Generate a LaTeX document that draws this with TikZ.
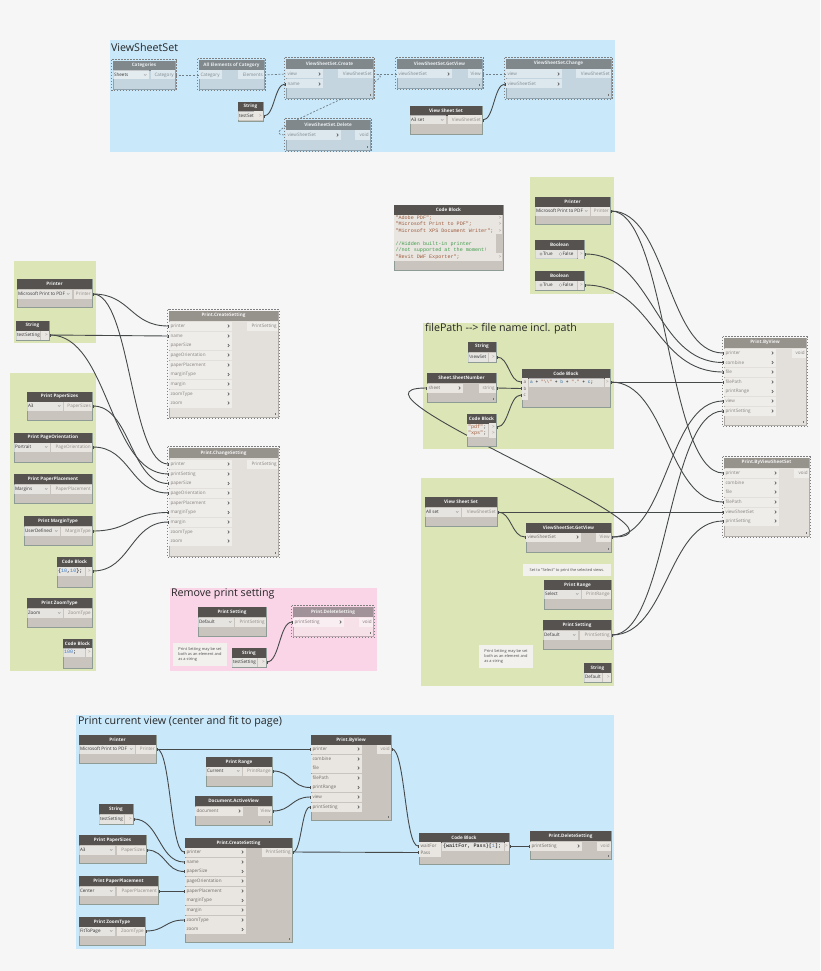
\documentclass[tikz,border=0pt]{standalone}
\usepackage{fontspec}
\setmainfont{Open Sans}
\newfontfamily\codefont{Liberation Mono}
\usetikzlibrary{arrows.meta,calc}
\pgfdeclarelayer{groups}\pgfdeclarelayer{wires}\pgfsetlayers{groups,wires,main}
\definecolor{pagebg}{HTML}{F6F6F6}
\definecolor{gblue}{HTML}{C9E8FA}
\definecolor{ggreen}{HTML}{DCE5B5}
\definecolor{gpink}{HTML}{F9D5E7}
\definecolor{wirecol}{HTML}{45494A}
\definecolor{dashcol}{HTML}{6F7F88}
\definecolor{codestr}{HTML}{9C5A3C}
\definecolor{codecom}{HTML}{3F9A4A}
\definecolor{codenum}{HTML}{3F7FC8}
\definecolor{codeinp}{HTML}{2F6F9F}
\definecolor{F2note}{HTML}{F3F1EE}
\definecolor{frozencol}{HTML}{7F7F7F}
\newif\ifdashedbox
\newcommand{\setlook}[7]{\definecolor{boxfill}{HTML}{#1}\definecolor{titlefill}{HTML}{#2}\definecolor{titletext}{HTML}{#3}\definecolor{pinfill}{HTML}{#4}\definecolor{pintext}{HTML}{#5}\definecolor{boxline}{HTML}{#6}\definecolor{outcol}{HTML}{#7}}
\newcommand{\looklive}{\setlook{C9C5BE}{555250}{F4F4F4}{E9E6E1}{6E6B68}{8F9C96}{8E8B88}\dashedboxfalse}
\newcommand{\lookfrozen}{\setlook{E3E0DC}{96928C}{F4F4F4}{EFEDEA}{85827E}{B0ADA8}{85827E}\dashedboxtrue}
\newcommand{\lookghost}{\setlook{C4D5DF}{80888C}{E8ECEE}{DDE8EE}{7F8A90}{8FA3AE}{7F8A90}\dashedboxtrue}
\newcommand{\lookpink}{\setlook{F5E1E7}{A09298}{F4F4F4}{F9EEF2}{85787E}{BFAAB2}{85787E}\dashedboxtrue}
\tikzset{
 x=1pt,y=-1pt,
 every node/.style={inner sep=0pt,outer sep=0pt},
 labeltext/.style={font=\fontsize{4.6}{5.6}\selectfont},
 boxbody/.style={fill=boxfill,draw=boxline,line width=0.7pt,rectangle,anchor=north west},
 boxtitle/.style={fill=titlefill,text=titletext,rectangle,anchor=north west,font=\fontsize{4.6}{5.6}\selectfont\bfseries},
 pinbg/.style={fill=pinfill,rectangle,minimum height=9pt,anchor=west},
 fieldbg/.style={fill=white,fill opacity=0.55,rectangle,minimum height=9pt,anchor=west},
 fieldtext/.style={labeltext,text=black!80,anchor=west},
 intext/.style={labeltext,text=pintext,anchor=west},
 outtext/.style={labeltext,text=outcol,anchor=east},
 chev/.style={line width=0.6pt,draw=black!70},
 frozenline/.style={draw=frozencol,line width=1pt,dash pattern=on 1.5pt off 1.5pt},
 lacing/.style={draw=black!55,line width=0.4pt},
 grouptitle/.style={font=\fontsize{10.7}{12}\selectfont,text=black!85,anchor=west},
 groupbox/.style={rectangle,anchor=north west},
 notebox/.style={fill=F2note,rectangle,anchor=north west,align=left,font=\fontsize{3.9}{5.4}\selectfont,text=black!70,inner sep=1.5pt},
 wire/.style={draw=wirecol,line width=0.9pt,{Rectangle[length=1.3pt,width=2.4pt]}-{Rectangle[length=1.3pt,width=2.4pt]}},
 dashwire/.style={draw=dashcol,line width=0.7pt,dash pattern=on 2pt off 1.6pt},
 codetext/.style={font=\codefont\fontsize{5.1}{6}\selectfont,anchor=west},
}
% \dbox{look}{id}{x1}{y1}{x2}{y2}{title}
\newcommand{\dbox}[7]{%
 \csname look#1\endcsname
 \pgfmathsetmacro\dynw{#5-#3}\pgfmathsetmacro\dynh{#6-#4}%
 \node[boxbody,minimum width=\dynw pt,minimum height=\dynh pt] (#2) at (#3,#4) {};
 \node[boxtitle,minimum width=\dynw pt,minimum height=9.6pt] (#2-t) at (#3,#4) {#7};
 \ifdashedbox
 \draw[frozenline] ($(#2.north west)+(-1.4,-1.4)$) rectangle ($(#2.south east)+(1.4,1.4)$);
 \fi
}
% lacing mark
\newcommand{\lace}[1]{\draw[lacing] ($(#1.south east)+(-3,-4)$) -- ($(#1.south east)+(-3,-2)$);}
% input pin: id,x1,x2,y,label
\newcommand{\pinn}[5]{%
 \pgfmathsetmacro\dynw{#3-#2}%
 \node[pinbg,minimum width=\dynw pt] (#1) at (#2,#4) {};
 \node[intext] (#1-l) at (#2+1.5,#4) {#5};
}
\newcommand{\pin}[5]{\pinn{#1}{#2}{#3}{#4}{#5}
 \draw[chev] (#3-4.2,#4-1.5) -- (#3-2.7,#4) -- (#3-4.2,#4+1.5);
}
% output pin: id,x1,x2,y,label
\newcommand{\pout}[5]{%
 \pgfmathsetmacro\dynw{#3-#2}%
 \node[pinbg,minimum width=\dynw pt] (#1) at (#2,#4) {};
 \node[outtext] (#1-l) at (#3-1.3,#4) {#5};
}
% dropdown: id,x1,x2,y,text
\newcommand{\combo}[5]{%
 \pgfmathsetmacro\dynw{#3-#2}%
 \node[fieldbg,minimum width=\dynw pt] (#1) at (#2,#4) {};
 \node[fieldtext] (#1-l) at (#2+1,#4) {#5};
 \draw[draw=black!45,line width=0.35pt] (#3-5,#4-0.7) -- (#3-3.8,#4+0.5) -- (#3-2.6,#4-0.7);
}
% text input: id,x1,x2,y,text
\newcommand{\field}[5]{%
 \pgfmathsetmacro\dynw{#3-#2}%
 \node[fieldbg,minimum width=\dynw pt] (#1) at (#2,#4) {};
 \node[fieldtext] (#1-l) at (#2+1,#4) {#5};
}
% small output with chevron text
\newcommand{\smallout}[4]{%
 \pout{#1}{#2}{#3}{#4}{>}
}
\newcommand{\wire}[3][wire]{\draw[#1] let \p1=(#2.east),\p2=(#3.west),\n1={0.5*abs(\x2-\x1)} in (#2.east) .. controls +(\n1,0) and +(-\n1,0) .. (#3.west);}
\newcommand{\grp}[6]{%
 \begin{pgfonlayer}{groups}
 \pgfmathsetmacro\dynw{#4-#2}\pgfmathsetmacro\dynh{#5-#3}%
 \node[groupbox,fill=#6,minimum width=\dynw pt,minimum height=\dynh pt] (#1) at (#2,#3) {};
 \end{pgfonlayer}
}
\newcommand{\radio}[3]{\node[circle,fill=white,draw=black!40,line width=0.25pt,minimum size=2.8pt] (#1) at (#2,#3) {};}
\begin{document}
\begin{tikzpicture}
\useasboundingbox (0,0) rectangle (820,971);
\begin{pgfonlayer}{groups}
\fill[pagebg] (0,0) rectangle (820,971);
\end{pgfonlayer}
% groups
\grp{g1}{110}{40}{615}{152}{gblue}
\grp{g2}{14}{261}{96}{343}{ggreen}
\grp{g3}{10}{373}{96}{671}{ggreen}
\grp{g4}{170}{588}{377}{671}{gpink}
\grp{g5}{530}{177}{614}{294}{ggreen}
\grp{g6}{423}{323}{614}{449}{ggreen}
\grp{g7}{421}{478}{614}{686}{ggreen}
\grp{g8}{76}{715}{614}{949}{gblue}
\node[grouptitle] (h1) at (111,47) {ViewSheetSet};
\node[grouptitle] (h2) at (171,594) {Remove print setting};
\node[grouptitle] (h3) at (425,329) {filePath {-}{-}> file name incl. path};
\node[grouptitle] (h4) at (78,722) {Print current view (center and fit to page)};

% ---- ViewSheetSet group
\dbox{ghost}{a1}{113}{61}{175}{89}{Categories}
\combo{a1c}{113}{149}{75}{Sheets}
\pout{a1o}{151}{175}{75}{Category}
\dbox{ghost}{a2}{199}{60}{264}{89}{All Elements of Category}
\pinn{a2i}{199}{222}{75}{Category}
\pout{a2o}{238}{264}{75}{Elements}
\dbox{ghost}{a3}{286}{59}{373}{98}{ViewSheetSet.Create}
\pin{a3v}{286}{323}{74}{view}
\pin{a3n}{286}{323}{84}{name}
\pout{a3o}{338}{373}{74}{ViewSheetSet}
\lace{a3}
\dbox{ghost}{a4}{286}{120}{370}{150}{ViewSheetSet.Delete}
\pin{a4i}{286}{341}{135}{viewSheetSet}
\pout{a4o}{355}{370}{135}{void}
\lace{a4}
\dbox{ghost}{a5}{397}{59}{482}{88}{ViewSheetSet.GetView}
\pin{a5i}{397}{452}{74}{viewSheetSet}
\pout{a5o}{468}{482}{74}{View}
\lace{a5}
\dbox{ghost}{a6}{506}{59}{611}{98}{ViewSheetSet.Change}
\pin{a6v}{506}{562}{74}{view}
\pin{a6s}{506}{562}{84}{viewSheetSet}
\pout{a6o}{576}{611}{74}{ViewSheetSet}
\lace{a6}
\dbox{live}{a7}{238}{102}{263}{121}{String}
\field{a7f}{238}{254}{116}{testSet}
\smallout{a7o}{254}{263}{116}
\dbox{live}{a8}{410}{106}{482}{134}{View Sheet Set}
\combo{a8c}{410}{446}{120}{A3 set}
\pout{a8o}{448}{482}{120}{ViewSheetSet}

% ---- Left settings
\dbox{live}{b1}{17}{279}{92}{307}{Printer}
\combo{b1c}{17}{72}{294}{Microsoft Print to PDF}
\pout{b1o}{74}{92}{294}{Printer}
\dbox{live}{b2}{16}{321}{49}{340}{String}
\field{b2f}{16}{40}{335}{testSetting}
\smallout{b2o}{41}{49}{335}
\dbox{live}{b3}{27}{392}{92}{420}{Print PaperSizes}
\combo{b3c}{27}{63}{406}{A3}
\pout{b3o}{64}{92}{406}{PaperSizes}
\dbox{live}{b4}{14}{433}{92}{462}{Print PageOrientation}
\combo{b4c}{14}{50}{447}{Portrait}
\pout{b4o}{51}{92}{447}{PageOrientation}
\dbox{live}{b5}{14}{474}{92}{503}{Print PaperPlacement}
\combo{b5c}{14}{50}{489}{Margins}
\pout{b5o}{51}{92}{489}{PaperPlacement}
\dbox{live}{b6}{24}{516}{92}{545}{Print MarginType}
\combo{b6c}{24}{60}{531}{UserDefined}
\pout{b6o}{61}{92}{531}{MarginType}
\dbox{live}{b7}{57}{557}{92}{587}{Code Block}
\field{b7f}{57}{85}{571}{}
\node[codetext] (b7t) at (58,571) {\{\textcolor{codenum}{10},\textcolor{codenum}{10}\};};
\smallout{b7o}{86}{92}{571}
\dbox{live}{b8}{27}{598}{92}{627}{Print ZoomType}
\combo{b8c}{27}{63}{613}{Zoom}
\pout{b8o}{64}{92}{613}{ZoomType}
\dbox{live}{b9}{63}{639}{92}{668}{Code Block}
\field{b9f}{63}{85}{652}{}
\node[codetext] (b9t) at (64,652) {\textcolor{codenum}{100};};
\smallout{b9o}{86}{92}{652}

\dbox{frozen}{c1}{169}{311}{278}{417}{Print.CreateSetting}
\pin{c1a}{169}{232}{326}{printer}
\pin{c1b}{169}{232}{336}{name}
\pin{c1c}{169}{232}{345.5}{paperSize}
\pin{c1d}{169}{232}{355}{pageOrientation}
\pin{c1e}{169}{232}{365}{paperPlacement}
\pin{c1f}{169}{232}{374.5}{marginType}
\pin{c1g}{169}{232}{384}{margin}
\pin{c1h}{169}{232}{394}{zoomType}
\pin{c1i}{169}{232}{403}{zoom}
\pout{c1o}{247}{278}{326}{PrintSetting}
\lace{c1}
\dbox{frozen}{c2}{169}{448}{278}{556}{Print.ChangeSetting}
\pin{c2a}{169}{232}{464}{printer}
\pin{c2b}{169}{232}{474}{printSetting}
\pin{c2c}{169}{232}{483.5}{paperSize}
\pin{c2d}{169}{232}{493}{pageOrientation}
\pin{c2e}{169}{232}{503}{paperPlacement}
\pin{c2f}{169}{232}{512.5}{marginType}
\pin{c2g}{169}{232}{522}{margin}
\pin{c2h}{169}{232}{532}{zoomType}
\pin{c2i}{169}{232}{541}{zoom}
\pout{c2o}{247}{278}{464}{PrintSetting}
\lace{c2}

% ---- Remove print setting
\dbox{live}{d1}{198}{607}{266}{636}{Print Setting}
\combo{d1c}{198}{234}{622}{Default}
\pout{d1o}{235}{266}{622}{PrintSetting}
\node[notebox,minimum width=54pt,minimum height=23pt] (d2) at (173,643) {Print Setting may be set\\both as an element and\\as a string};
\dbox{live}{d3}{232}{648}{266}{667}{String}
\field{d3f}{232}{257}{662}{testSetting}
\smallout{d3o}{258}{266}{662}
\dbox{pink}{d4}{293}{607}{373}{636}{Print.DeleteSetting}
\pin{d4i}{293}{344}{622}{printSetting}
\pout{d4o}{359}{373}{622}{void}
\lace{d4}

% ---- Large code block
\dbox{live}{e1}{394}{205}{503}{270}{Code Block}
\node[rectangle,fill=pinfill,anchor=north west,minimum width=108pt,minimum height=46pt] (e1b) at (394.4,214.6) {};
\node[rectangle,fill=boxfill,anchor=north west,minimum width=6.6pt,minimum height=19pt] (e1s) at (496,233.5) {};
\node[codetext,text=codestr] (e1l1) at (395.5,218) {"Adobe PDF";};
\node[codetext,text=codestr] (e1l2) at (395.5,224.5) {"Microsoft Print to PDF";};
\node[codetext,text=codestr] (e1l3) at (395.5,231) {"Microsoft XPS Document Writer";};
\node[codetext,text=codecom] (e1l4) at (395.5,244) {//Hidden built-in printer};
\node[codetext,text=codecom] (e1l5) at (395.5,250.5) {//not supported at the moment!};
\node[codetext,text=codestr] (e1l6) at (395.5,257) {"Revit DWF Exporter";};
\node[outtext] (e1o1) at (501.5,218) {>};
\node[outtext] (e1o2) at (501.5,224.5) {>};
\node[outtext] (e1o3) at (501.5,231) {>};
\node[outtext] (e1o4) at (501.5,257) {>};

% ---- right top group
\dbox{live}{f1}{535}{197}{610}{224}{Printer}
\combo{f1c}{535}{590}{211}{Microsoft Print to PDF}
\pout{f1o}{591}{610}{211}{Printer}
\dbox{live}{f2}{535}{240}{584}{258}{Boolean}
\field{f2f}{535}{577}{254}{}
\radio{f2r}{541}{254}
\fill[black!70] (541,254) circle (0.7);
\node[fieldtext] (f2a) at (543,254) {True};
\radio{f2s}{560.5}{254}
\node[fieldtext] (f2b) at (562.5,254) {False};
\smallout{f2o}{578}{584}{254}
\dbox{live}{f3}{535}{271}{584}{290}{Boolean}
\field{f3f}{535}{577}{285}{}
\radio{f3r}{541}{285}
\fill[black!70] (541,285) circle (0.7);
\node[fieldtext] (f3a) at (543,285) {True};
\radio{f3s}{560.5}{285}
\node[fieldtext] (f3b) at (562.5,285) {False};
\smallout{f3o}{578}{584}{285}

% ---- filePath group
\dbox{live}{k1}{468}{342}{496}{362}{String}
\field{k1f}{468}{488}{357}{\textbackslash{}newSet}
\smallout{k1o}{489}{496}{357}
\dbox{live}{k2}{427}{373}{496}{402}{Sheet.SheetNumber}
\pin{k2i}{427}{463}{388}{sheet}
\pout{k2o}{479}{496}{388}{string}
\lace{k2}
\dbox{live}{k3}{467}{414}{496}{446}{Code Block}
\node[rectangle,fill=pinfill,anchor=west,minimum width=21pt,minimum height=13pt] (k3g) at (467.4,430.2) {};
\node[codetext,text=codestr] (k3a) at (468,427) {"pdf"\textcolor{black!70}{;}};
\node[codetext,text=codestr] (k3b) at (468,433.5) {"xps"\textcolor{black!70}{;}};
\smallout{k3o}{489}{496}{427}
\smallout{k3p}{489}{496}{433.5}
\dbox{live}{k4}{522}{369}{610}{407}{Code Block}
\pinn{k4a}{522}{528}{382}{a}
\pinn{k4b}{522}{528}{388.5}{b}
\pinn{k4c}{522}{528}{395}{c}
\field{k4f}{529}{604}{382}{}
\node[codetext,font=\codefont\fontsize{4.6}{6}\selectfont] (k4t) at (530,382) {\textcolor{codeinp}{a} + \textcolor{codestr}{"\textbackslash\textbackslash"} + \textcolor{codeinp}{b} + \textcolor{codestr}{"."} + \textcolor{codeinp}{c};};
\smallout{k4o}{605}{610}{382}

% ---- sheet-set group
\dbox{live}{m1}{425}{497}{497}{526}{View Sheet Set}
\combo{m1c}{425}{461}{512}{All set}
\pout{m1o}{462}{497}{512}{ViewSheetSet}
\dbox{live}{m2}{526}{523}{611}{552}{ViewSheetSet.GetView}
\pin{m2i}{526}{581}{537}{viewSheetSet}
\pout{m2o}{596}{611}{537}{View}
\lace{m2}
\node[notebox,minimum width=88pt,minimum height=12pt,font=\fontsize{3.9}{5}\selectfont] (m3) at (523,564) {Set to "Select" to print the selected views.};
\dbox{live}{m4}{544}{580}{611}{609}{Print Range}
\combo{m4c}{544}{581}{594}{Select}
\pout{m4o}{582}{611}{594}{PrintRange}
\dbox{live}{m5}{543}{620}{611}{649}{Print Setting}
\combo{m5c}{543}{578}{635}{Default}
\pout{m5o}{580}{611}{635}{PrintSetting}
\node[notebox,minimum width=54pt,minimum height=23pt] (m6) at (479,645) {Print Setting may be set\\both as an element and\\as a string};
\dbox{live}{m7}{584}{663}{611}{682}{String}
\field{m7f}{584}{602}{677}{Default}
\smallout{m7o}{603}{611}{677}

% ---- Right prints
\dbox{frozen}{n1}{724}{338}{806}{425}{Print.ByView}
\pin{n1a}{724}{776}{353}{printer}
\pin{n1b}{724}{776}{362.5}{combine}
\pin{n1c}{724}{776}{372}{file}
\pin{n1d}{724}{776}{382}{filePath}
\pin{n1e}{724}{776}{391.5}{printRange}
\pin{n1f}{724}{776}{401}{view}
\pin{n1g}{724}{776}{411}{printSetting}
\pout{n1o}{792}{806}{353}{void}
\lace{n1}
\dbox{frozen}{n2}{724}{458}{809}{536}{Print.ByViewSheetSet}
\pin{n2a}{724}{779}{473}{printer}
\pin{n2b}{724}{779}{483}{combine}
\pin{n2c}{724}{779}{492}{file}
\pin{n2d}{724}{779}{502}{filePath}
\pin{n2e}{724}{779}{512}{viewSheetSet}
\pin{n2f}{724}{779}{521}{printSetting}
\pout{n2o}{794}{809}{473}{void}
\lace{n2}

% ---- Bottom group
\dbox{live}{q1}{79}{735}{156}{763}{Printer}
\combo{q1c}{79}{135}{749}{Microsoft Print to PDF}
\pout{q1o}{136}{156}{749}{Printer}
\dbox{live}{q2}{206}{757}{272}{786}{Print Range}
\combo{q2c}{206}{242}{771}{Current}
\pout{q2o}{243}{272}{771}{PrintRange}
\dbox{live}{q3}{195}{796}{272}{825}{Document.ActiveView}
\pin{q3i}{195}{243}{811}{document}
\pout{q3o}{258}{272}{811}{View}
\lace{q3}
\dbox{live}{q4}{99}{804}{133}{824}{String}
\field{q4f}{99}{124}{819}{testSetting}
\smallout{q4o}{125}{133}{819}
\dbox{live}{q5}{311}{735}{391}{820}{Print.ByView}
\pin{q5a}{311}{362}{749}{printer}
\pin{q5b}{311}{362}{759}{combine}
\pin{q5c}{311}{362}{768}{file}
\pin{q5d}{311}{362}{778}{filePath}
\pin{q5e}{311}{362}{787.5}{printRange}
\pin{q5f}{311}{362}{797}{view}
\pin{q5g}{311}{362}{807}{printSetting}
\pout{q5o}{377}{391}{749}{void}
\lace{q5}
\dbox{live}{q6}{79}{835}{146}{863}{Print PaperSizes}
\combo{q6c}{79}{115}{850}{A3}
\pout{q6o}{117}{146}{850}{PaperSizes}
\dbox{live}{q7}{79}{876}{158}{904}{Print PaperPlacement}
\combo{q7c}{79}{115}{891}{Center}
\pout{q7o}{117}{158}{891}{PaperPlacement}
\dbox{live}{q8}{79}{917}{145}{945}{Print ZoomType}
\combo{q8c}{79}{115}{931}{FitToPage}
\pout{q8o}{117}{145}{931}{ZoomType}
\dbox{live}{q9}{185}{838}{292}{942}{Print.CreateSetting}
\pin{q9a}{185}{246}{852}{printer}
\pin{q9b}{185}{246}{862}{name}
\pin{q9c}{185}{246}{871.5}{paperSize}
\pin{q9d}{185}{246}{881}{pageOrientation}
\pin{q9e}{185}{246}{891}{paperPlacement}
\pin{q9f}{185}{246}{900.5}{marginType}
\pin{q9g}{185}{246}{910}{margin}
\pin{q9h}{185}{246}{920}{zoomType}
\pin{q9i}{185}{246}{929.5}{zoom}
\pout{q9o}{262}{292}{852}{PrintSetting}
\lace{q9}
\dbox{live}{r1}{419}{833}{509}{864}{Code Block}
\pinn{r1a}{419}{441}{846}{waitFor}
\pinn{r1b}{419}{441}{852.5}{Pass}
\field{r1f}{442}{504}{846}{}
\node[codetext] (r1t) at (443,846) {\{waitFor, Pass\}[\textcolor{codenum}{1}];};
\smallout{r1o}{505}{509}{846}
\dbox{live}{r2}{530}{831}{611}{859}{Print.DeleteSetting}
\pin{r2i}{530}{582}{846}{printSetting}
\pout{r2o}{597}{611}{846}{void}
\lace{r2}

% ---- Wires (behind the nodes)
\begin{pgfonlayer}{wires}
\draw[dashwire] (a1o.east) -- (a2i.west);
\draw[dashwire] (a2o.east) -- (a3v.west);
\draw[dashwire] (a3o.east) -- (a5i.west);
\draw[dashwire] (a5o.east) -- (a6v.west);
\draw[dashwire] (a3o.east) .. controls +(45,0) and +(-45,0) .. (a4i.west);
\wire{a7o}{a3n}
\wire{a8o}{a6s}
\wire{b1o}{c1a}
\wire{b1o}{c2a}
\wire{b2o}{c1b}
\wire{b2o}{c2b}
\wire{b3o}{c2c}
\wire{b4o}{c2d}
\wire{b6o}{c2f}
\wire{b7o}{c2g}
\wire{d3o}{d4i}
\wire{f1o}{n1a}
\wire{f1o}{n2a}
\wire{f2o}{n1b}
\wire{f3o}{n1c}
\wire{k1o}{k4a}
\wire{k2o}{k4b}
\wire{k3o}{k4c}
\wire{k4o}{n1d}
\wire{k4o}{n2d}
\wire{m1o}{m2i}
\wire{m1o}{n2e}
\wire{m2o}{n1f}
\draw[wire] (m2o.east) .. controls +(105,0) and +(-105,0) .. (k2i.west);
\wire{m5o}{n1g}
\wire{m5o}{n2f}
\wire{q1o}{q5a}
\wire{q1o}{q9a}
\wire{q4o}{q9b}
\wire{q6o}{q9c}
\wire{q7o}{q9e}
\wire{q8o}{q9h}
\wire{q2o}{q5e}
\wire{q3o}{q5f}
\wire{q9o}{q5g}
\wire{q9o}{r1b}
\wire{q5o}{r1a}
\wire{r1o}{r2i}
\end{pgfonlayer}
\end{tikzpicture}
\end{document}
